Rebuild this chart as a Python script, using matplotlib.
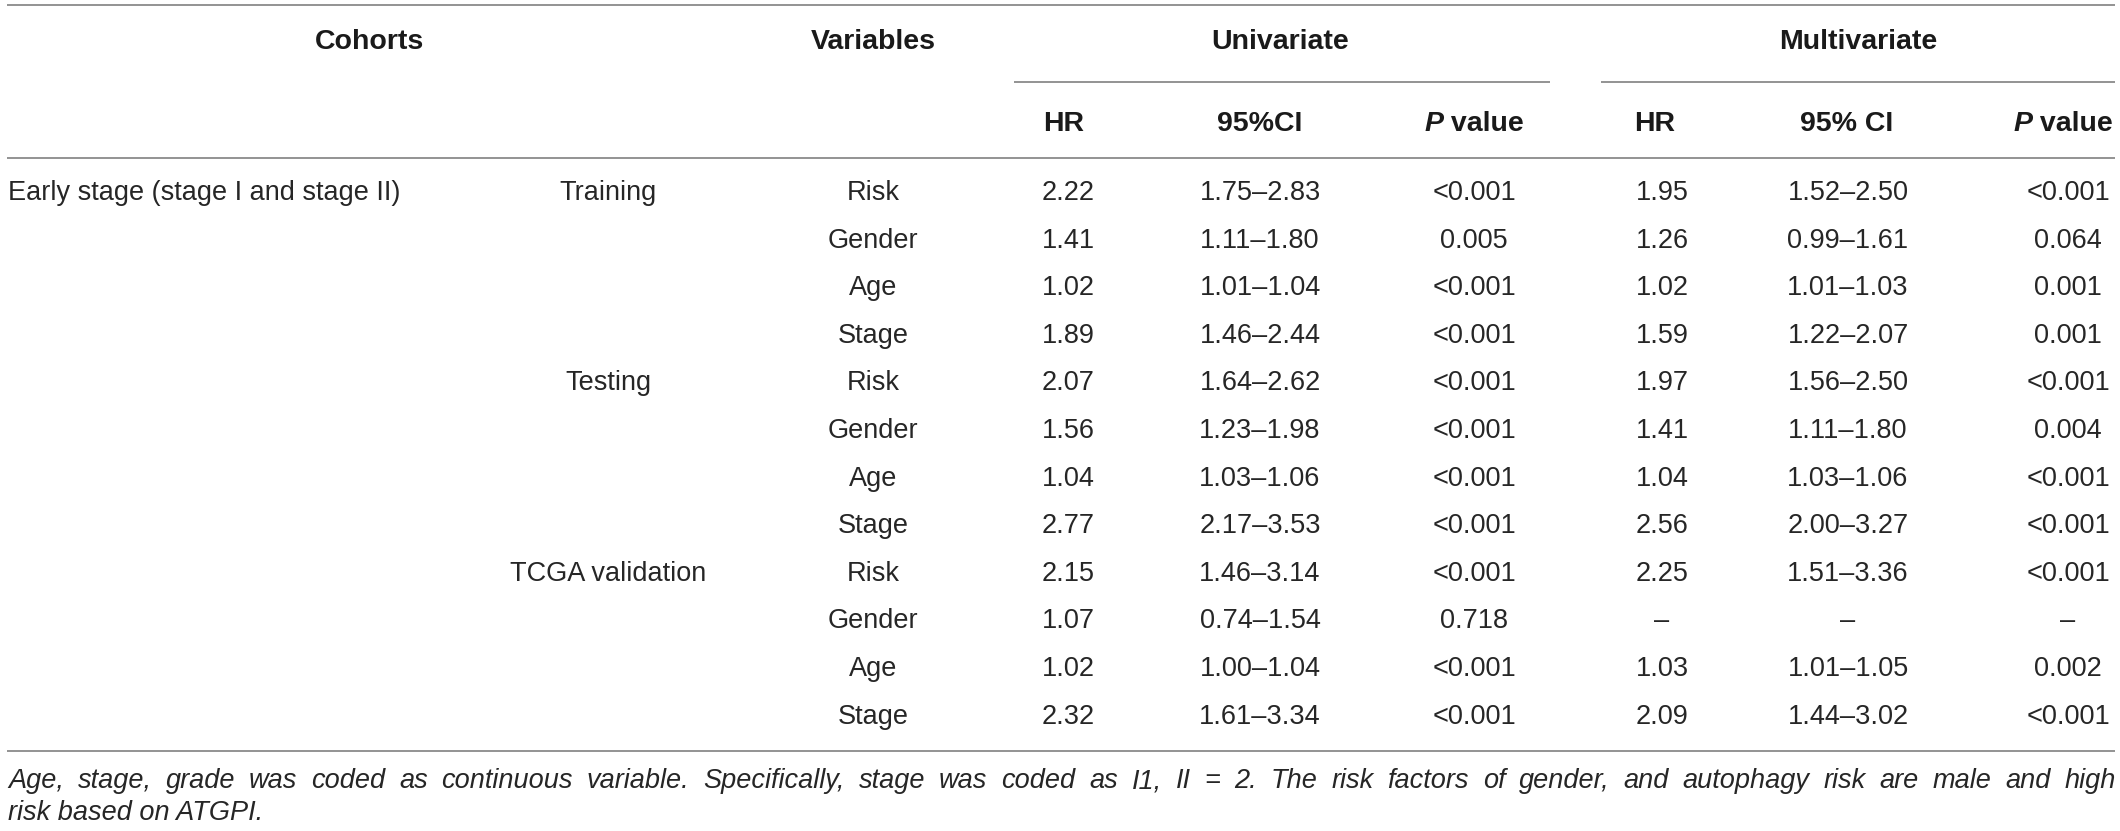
import matplotlib
matplotlib.use("Agg")
import matplotlib.pyplot as plt

# ---------------- data ----------------
stage_group = "Early stage (stage I and stage II)"
cohorts = ["Training", "Testing", "TCGA validation"]
variables = ["Risk", "Gender", "Age", "Stage"] * 3
uni_hr = ["2.22", "1.41", "1.02", "1.89", "2.07", "1.56", "1.04", "2.77", "2.15", "1.07", "1.02", "2.32"]
uni_ci = ["1.75–2.83", "1.11–1.80", "1.01–1.04", "1.46–2.44", "1.64–2.62", "1.23–1.98",
          "1.03–1.06", "2.17–3.53", "1.46–3.14", "0.74–1.54", "1.00–1.04", "1.61–3.34"]
uni_p = ["<0.001", "0.005", "<0.001", "<0.001", "<0.001", "<0.001",
         "<0.001", "<0.001", "<0.001", "0.718", "<0.001", "<0.001"]
multi_hr = ["1.95", "1.26", "1.02", "1.59", "1.97", "1.41", "1.04", "2.56", "2.25", "–", "1.03", "2.09"]
multi_ci = ["1.52–2.50", "0.99–1.61", "1.01–1.03", "1.22–2.07", "1.56–2.50", "1.11–1.80",
            "1.03–1.06", "2.00–3.27", "1.51–3.36", "–", "1.01–1.05", "1.44–3.02"]
multi_p = ["<0.001", "0.064", "0.001", "0.001", "<0.001", "0.004",
           "<0.001", "<0.001", "<0.001", "–", "0.002", "<0.001"]
header_top = ["Cohorts", "Variables", "Univariate", "Multivariate"]
sub_headers = ["HR", "95%CI", "P value", "HR", "95% CI", "P value"]
footnote_1 = ("Age, stage, grade was coded as continuous variable. Specifically, stage was coded as I1, "
              "II = 2. The risk factors of gender, and autophagy risk are male and high")
footnote_2 = "risk based on ATGPI."

# ---------------- layout ----------------
W, H = 2120, 831
FONT = "Liberation Sans"
FS = 19.5
FS_HDR = 20.5
TXT = "#262626"
HDR = "#1a1a1a"
LINE = "#8a8a8a"

fig = plt.figure(figsize=(W / 100, H / 100), dpi=100)
ax = fig.add_axes([0, 0, 1, 1])
ax.set_xlim(0, W)
ax.set_ylim(H, 0)
ax.axis("off")

x_left, x_right = 7, 2115
x_cohort_hdr = 370
x_cohort = 608
x_var = 873
x_cols = [1064, 1260, 1474, 1655, 1847, 2063]
x_data = [1068, 1260, 1474, 1662, 1848, 2068]
x_uni_c, x_multi_c = 1280, 1858

y_top_line = 5
y_hdr1 = 42
y_sub_line = 82
y_hdr2 = 124
y_hdr_line = 158
y_row0 = 193
row_h = 47.6
y_bot_line = 751
y_fn1 = 781
y_fn2 = 813

lw = 1.3
ax.hlines([y_top_line, y_hdr_line, y_bot_line], x_left, x_right, color=LINE, lw=lw)
ax.hlines(y_sub_line, 1014, 1550, color=LINE, lw=lw)
ax.hlines(y_sub_line, 1601, x_right, color=LINE, lw=lw)

hdr_kw = dict(fontfamily=FONT, fontsize=FS_HDR, fontweight="bold", color=HDR, ha="center", va="center")
for lab, x in zip(header_top, [x_cohort_hdr, x_var, x_uni_c, x_multi_c]):
    ax.text(x, y_hdr1, lab, **hdr_kw)

fig.canvas.draw()
renderer = fig.canvas.get_renderer()
for lab, x in zip(sub_headers, x_cols):
    if lab.startswith("P "):
        t1 = ax.text(x, y_hdr2, "P", fontstyle="italic", **{**hdr_kw, "ha": "left"})
        t2 = ax.annotate(" value", xy=(1, 0), xycoords=t1, ha="left", va="bottom",
                         fontfamily=FONT, fontsize=FS_HDR, fontweight="bold", color=HDR)
        fig.canvas.draw()
        b1 = t1.get_window_extent(renderer)
        b2 = t2.get_window_extent(renderer)
        total = b2.x1 - b1.x0
        t1.set_x(x - total / 2)
    else:
        ax.text(x, y_hdr2, lab, **hdr_kw)

body_kw = dict(fontfamily=FONT, fontsize=FS, color=TXT, va="center")
ax.text(x_left + 1, y_row0, stage_group, ha="left", **body_kw)
for i, c in enumerate(cohorts):
    ax.text(x_cohort, y_row0 + 4 * i * row_h, c, ha="center", **body_kw)

for i in range(len(variables)):
    y = y_row0 + i * row_h
    ax.text(x_var, y, variables[i], ha="center", **body_kw)
    for x, col in zip(x_data, [uni_hr, uni_ci, uni_p, multi_hr, multi_ci, multi_p]):
        ax.text(x, y, col[i], ha="center", **body_kw)

# footnote (first line justified)
fn_kw = dict(fontfamily=FONT, fontsize=FS, color=TXT, fontstyle="italic", va="center", ha="left")
words = footnote_1.split(" ")
arts = [ax.text(0, y_fn1, w, **fn_kw) for w in words]
fig.canvas.draw()
widths = [a.get_window_extent(renderer).width for a in arts]
gap = (x_right - x_left - sum(widths)) / (len(words) - 1)
xpos = x_left + 1
for a, w in zip(arts, widths):
    a.set_x(xpos)
    xpos += w + gap
ax.text(x_left + 1, y_fn2, footnote_2, **fn_kw)

fig.savefig("out.png", dpi=100)
